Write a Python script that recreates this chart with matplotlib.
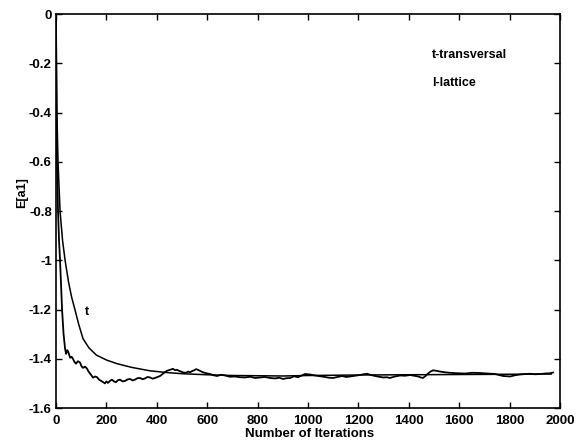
import matplotlib
matplotlib.use("Agg")
import matplotlib.pyplot as plt

# t-transversal (smooth curve)
trans_iter = [0, 2, 4, 8, 16, 26, 36, 50, 62, 75, 90, 107, 130, 160, 200,
              242, 300, 373, 440, 504, 600, 700, 800, 900, 1000, 1200,
              1400, 1600, 1800, 1965]
trans_val = [0, -0.25, -0.42, -0.6, -0.8, -0.92, -1.0, -1.09, -1.15, -1.2,
             -1.26, -1.318, -1.355, -1.385, -1.405, -1.42, -1.435, -1.449,
             -1.456, -1.461, -1.465, -1.468, -1.469, -1.47, -1.468, -1.466,
             -1.465, -1.464, -1.463, -1.462]

# l-lattice (noisy curve)
latt_iter = [0, 1, 2, 4, 8, 12, 16, 20, 24, 30, 36, 40, 44, 48, 56, 62, 67,
             73, 79, 87, 95, 101, 107, 115, 123, 129, 135, 141, 147, 155,
             163, 171, 179, 187, 194, 200, 206, 214, 222, 230, 238, 246,
             254, 264, 274, 284, 294, 304, 313, 323, 333, 343, 353, 363,
             373, 383, 393, 403, 413, 425, 440, 452, 464, 472, 480, 488,
             496, 506, 516, 524, 532, 540, 548, 556, 563, 573, 583, 597,
             611, 625, 639, 655, 671, 690, 710, 730, 750, 770, 790, 810,
             829, 849, 869, 885, 901, 915, 929, 945, 960, 975, 988, 1008,
             1028, 1048, 1067, 1083, 1099, 1117, 1135, 1151, 1167, 1186,
             1206, 1220, 1234, 1250, 1266, 1282, 1298, 1312, 1325, 1345,
             1365, 1385, 1405, 1421, 1437, 1447, 1456, 1466, 1476, 1486,
             1496, 1510, 1524, 1543, 1563, 1593, 1623, 1653, 1683, 1713,
             1742, 1758, 1774, 1788, 1802, 1821, 1841, 1861, 1881, 1901,
             1921, 1940, 1960, 1972]
latt_val = [0, -0.2, -0.4, -0.6, -0.8, -0.92, -1.0, -1.1, -1.2, -1.3, -1.36,
            -1.38, -1.365, -1.37, -1.396, -1.392, -1.40, -1.412, -1.42,
            -1.41, -1.415, -1.43, -1.437, -1.432, -1.44, -1.452, -1.46,
            -1.468, -1.477, -1.472, -1.475, -1.485, -1.49, -1.495, -1.50,
            -1.492, -1.498, -1.49, -1.485, -1.492, -1.495, -1.487, -1.485,
            -1.492, -1.49, -1.484, -1.482, -1.488, -1.485, -1.479, -1.478,
            -1.483, -1.48, -1.474, -1.476, -1.481, -1.478, -1.474, -1.47,
            -1.46, -1.449, -1.445, -1.441, -1.446, -1.445, -1.449, -1.452,
            -1.456, -1.457, -1.452, -1.455, -1.45, -1.447, -1.442, -1.445,
            -1.45, -1.455, -1.459, -1.462, -1.467, -1.47, -1.465, -1.468,
            -1.473, -1.472, -1.475, -1.476, -1.473, -1.478, -1.476, -1.474,
            -1.478, -1.48, -1.477, -1.482, -1.479, -1.478, -1.471, -1.475,
            -1.468, -1.462, -1.464, -1.468, -1.471, -1.474, -1.477, -1.478,
            -1.474, -1.47, -1.474, -1.472, -1.469, -1.466, -1.463, -1.461,
            -1.466, -1.47, -1.473, -1.476, -1.475, -1.478, -1.472, -1.468,
            -1.469, -1.466, -1.469, -1.472, -1.476, -1.478, -1.47, -1.46,
            -1.452, -1.447, -1.449, -1.452, -1.455, -1.457, -1.459, -1.46,
            -1.457, -1.458, -1.46, -1.462, -1.466, -1.47, -1.471, -1.472,
            -1.467, -1.464, -1.462, -1.461, -1.463, -1.462, -1.46, -1.459,
            -1.456]

x_ticks = list(range(0, 2001, 200))
y_ticks = [0, -0.2, -0.4, -0.6, -0.8, -1, -1.2, -1.4, -1.6]
y_tick_labels = ["0", "-0.2", "-0.4", "-0.6", "-0.8", "-1", "-1.2", "-1.4", "-1.6"]

plt.rcParams["font.family"] = ["Liberation Sans", "DejaVu Sans"]
plt.rcParams["font.weight"] = "bold"

fig = plt.figure(figsize=(5.81, 4.46), dpi=100)
ax = fig.add_axes([0.0964, 0.0852, 0.8676, 0.8834])

ax.plot(trans_iter, trans_val, color="black", lw=1.1)
ax.plot(latt_iter, latt_val, color="black", lw=1.3)

ax.set_xlim(0, 2000)
ax.set_ylim(-1.6, 0)
ax.set_xticks(x_ticks)
ax.set_xticklabels([str(v) for v in x_ticks])
ax.set_yticks(y_ticks)
ax.set_yticklabels(y_tick_labels)
ax.tick_params(direction="in", length=4, width=1, top=True, right=True,
               labelsize=9.5, pad=3)
ax.tick_params(axis="x", pad=5)
for lab in ax.get_xticklabels() + ax.get_yticklabels():
    lab.set_fontweight("bold")
for sp in ax.spines.values():
    sp.set_linewidth(1.2)

ax.text(1490, -0.167, "t-transversal", fontsize=9, fontweight="bold",
        va="center", ha="left")
ax.text(1494, -0.28, "l-lattice", fontsize=9, fontweight="bold",
        va="center", ha="left")
ax.text(115, -1.21, "t", fontsize=9, fontweight="bold", va="center")

fig.text(310 / 581, 1 - 434 / 446, "Number of Iterations", fontsize=9.5,
         fontweight="bold", ha="center", va="center")
fig.text(22 / 581, 1 - 193 / 446, "E[a1]", fontsize=9, fontweight="bold",
         rotation=90, ha="center", va="center")

fig.savefig("out.png", dpi=100, facecolor="white")
